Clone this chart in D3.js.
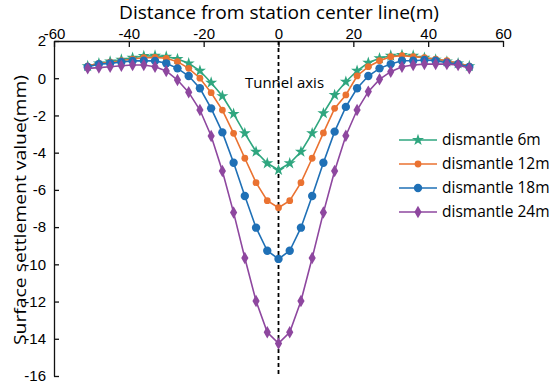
<!DOCTYPE html>
<html>
<head>
<meta charset="utf-8">
<script src="https://cdn.jsdelivr.net/npm/d3@7"></script>
<style>
	body { margin: 0; background: #fff; }
	svg { font-family: "Open Sans", sans-serif; }
	.tick text { font-size: 15px; fill: #000; }
	.domain, .tick line { stroke: #111; stroke-width: 1.3; }
</style>
</head>
<body>
<svg id="chart"></svg>
<script>
/*************** data *****************/
var distance = [-51,-48,-45,-42,-39,-36,-33,-30,-27,-24,-21,-18,-15,-12,-9,-6,-3,0,
	3,6,9,12,15,18,21,24,27,30,33,36,39,42,45,48,51];

var dismantle6 = [0.65,0.8,0.9,1.0,1.1,1.19,1.21,1.16,1.03,0.80,0.40,-0.24,-0.96,-1.92,-2.96,-3.95,-4.57,-4.93,
	-4.57,-3.95,-2.96,-1.88,-0.90,-0.19,0.40,0.83,1.07,1.21,1.25,1.21,1.1,1.0,0.9,0.8,0.65];
var dismantle12 = [0.65,0.80,0.86,0.94,1.03,1.10,1.12,1.07,0.89,0.53,0.0,-0.78,-1.71,-2.96,-4.30,-5.61,-6.58,-6.96,
	-6.58,-5.61,-4.30,-2.94,-1.62,-0.90,0.12,0.62,0.94,1.16,1.21,1.16,1.10,1.03,0.94,0.80,0.65];
var dismantle18 = [0.6,0.76,0.80,0.87,0.93,0.94,0.93,0.80,0.53,0.12,-0.54,-1.62,-2.91,-4.54,-6.33,-8.03,-9.27,-9.71,
	-9.27,-8.03,-6.33,-4.54,-2.87,-1.54,-0.54,0.12,0.53,0.76,0.94,0.94,0.98,0.94,0.83,0.76,0.6];
var dismantle24 = [0.53,0.57,0.62,0.67,0.71,0.71,0.62,0.39,-0.10,-0.76,-1.71,-3.10,-4.99,-7.22,-9.66,-11.97,-13.65,-14.25,
	-13.65,-11.97,-9.66,-7.22,-4.99,-3.09,-1.71,-0.72,-0.06,0.35,0.62,0.71,0.76,0.76,0.76,0.71,0.53];

var seriesNames = ["dismantle 6m","dismantle 12m","dismantle 18m","dismantle 24m"];
var xTicks = [-60,-40,-20,0,20,40,60];
var yTicks = [2,0,-2,-4,-6,-8,-10,-12,-14,-16];

/*************** settings *****************/
var width = 556,
	height = 383,
	margin = {top:41,right:53,bottom:7,left:54},
	innerWidth = width - margin.left - margin.right,
	innerHeight = height - margin.top - margin.bottom;

var colors = ["#2fa67f","#ea7231","#1f70b6","#8e479f"];
var symbols = [d3.symbolStar, d3.symbolCircle, d3.symbolCircle, d3.symbolDiamond];
var symbolSizes = [45, 36, 55, 45];

var series = [dismantle6, dismantle12, dismantle18, dismantle24].map(function(vals, i) {
	return {name: seriesNames[i], color: colors[i], symbol: symbols[i], size: symbolSizes[i],
		points: vals.map(function(v, j) { return {x: distance[j], y: v}; })};
});

var svg = d3.select("#chart")
	.attr("width", width)
	.attr("height", height);

var g = svg.append("g")
	.attr("transform", "translate(" + margin.left + "," + margin.top + ")");

/*********** scales ****************************************/
var xScale = d3.scaleLinear().domain([-60, 60]).range([0, innerWidth]);
var yScale = d3.scaleLinear().domain([-16, 2]).range([innerHeight, 0]);

/*********** axes ****************************************/
g.append("g")
	.call(d3.axisTop(xScale).tickValues(xTicks).tickSizeInner(-6).tickSizeOuter(0).tickPadding(2)
		.tickFormat(function(d) { return String(d); }));

g.append("g")
	.call(d3.axisLeft(yScale).tickValues(yTicks).tickSizeInner(-5).tickSizeOuter(0).tickPadding(8)
		.tickFormat(function(d) { return String(d); }));

// tunnel axis dashed line
g.append("line")
	.attr("x1", xScale(0)).attr("x2", xScale(0))
	.attr("y1", 0).attr("y2", innerHeight)
	.attr("stroke", "#000")
	.attr("stroke-width", 1.8)
	.attr("stroke-dasharray", "4,3");

g.append("text")
	.attr("x", xScale(0) + 6)
	.attr("y", yScale(-0.55))
	.attr("text-anchor", "middle")
	.style("font-size", "15px")
	.attr("fill", "#000")
	.text("Tunnel axis");

/*********** lines and markers ****************************/
var line = d3.line()
	.x(function(d) { return xScale(d.x); })
	.y(function(d) { return yScale(d.y); });

series.forEach(function(s) {
	g.append("path")
		.datum(s.points)
		.attr("fill", "none")
		.attr("stroke", s.color)
		.attr("stroke-width", 1.6)
		.attr("d", line);

	g.selectAll(null)
		.data(s.points)
		.enter()
		.append("path")
		.attr("transform", function(d) { return "translate(" + xScale(d.x) + "," + yScale(d.y) + ")"; })
		.attr("d", d3.symbol().type(s.symbol).size(s.size))
		.attr("fill", s.color);
});

/*********** titles ****************************************/
svg.append("text")
	.attr("x", 279)
	.attr("y", 19)
	.attr("text-anchor", "middle")
	.attr("textLength", 320)
	.attr("lengthAdjust", "spacingAndGlyphs")
	.style("font-size", "17.5px")
	.attr("fill", "#000")
	.text("Distance from station center line(m)");

svg.append("text")
	.attr("transform", "translate(26," + 210 + ") rotate(-90)")
	.attr("text-anchor", "middle")
	.attr("textLength", 270)
	.attr("lengthAdjust", "spacingAndGlyphs")
	.style("font-size", "17px")
	.attr("fill", "#000")
	.text("Surface settlement value(mm)");

/*********** legend ****************************************/
var legend = svg.append("g")
	.attr("transform", "translate(399,140)");

var legendRow = legend.selectAll("g")
	.data(series)
	.enter()
	.append("g")
	.attr("transform", function(d, i) { return "translate(0," + (i * 24) + ")"; });

legendRow.append("line")
	.attr("x1", 0).attr("x2", 38)
	.attr("stroke", function(d) { return d.color; })
	.attr("stroke-width", 1.6);

legendRow.append("path")
	.attr("transform", "translate(19,0)")
	.attr("d", function(d) { return d3.symbol().type(d.symbol).size(d.size)(); })
	.attr("fill", function(d) { return d.color; });

legendRow.append("text")
	.attr("x", 43)
	.attr("dy", "0.35em")
	.style("font-size", "15.5px")
	.attr("fill", "#000")
	.text(function(d) { return d.name; });
</script>
</body>
</html>
